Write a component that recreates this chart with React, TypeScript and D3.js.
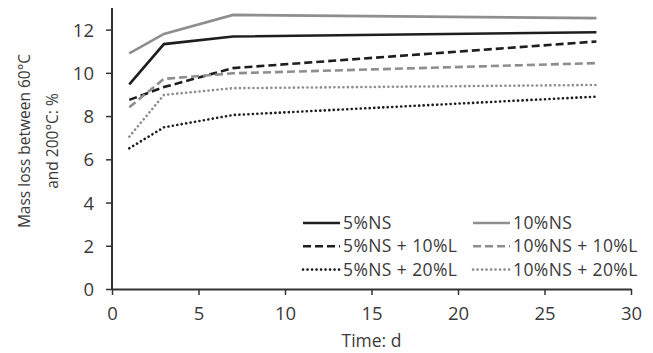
import React, { useEffect, useRef } from 'react'
import { select, scaleLinear, axisLeft, axisBottom, line } from 'd3'

// days sampled
const days = [1, 3, 7, 28]

// mass loss (%) per mix
const ns5 = [9.47, 11.33, 11.68, 11.88]
const ns10 = [10.9, 11.8, 12.68, 12.53]
const ns5L10 = [8.75, 9.34, 10.22, 11.45]
const ns10L10 = [8.41, 9.72, 9.98, 10.45]
const ns5L20 = [6.51, 7.48, 8.05, 8.9]
const ns10L20 = [7.05, 8.98, 9.29, 9.44]

const xTicks = [0, 5, 10, 15, 20, 25, 30]
const yTicks = [0, 2, 4, 6, 8, 10, 12]

const BLACK = '#1e1e1e'
const GREY = '#8e8e8e'

const series = [
  { name: '5%NS', values: ns5, color: BLACK, dash: null },
  { name: '10%NS', values: ns10, color: GREY, dash: null },
  { name: '5%NS + 10%L', values: ns5L10, color: BLACK, dash: '8,4' },
  { name: '10%NS + 10%L', values: ns10L10, color: GREY, dash: '8,4' },
  { name: '5%NS + 20%L', values: ns5L20, color: BLACK, dash: '0.1,4.4' },
  { name: '10%NS + 20%L', values: ns10L20, color: GREY, dash: '0.1,4.4' },
]

const FONT = '"Open Sans", "Noto Sans", sans-serif'
const TEXT = '#3a3a3a'

export default function App() {
  const ref = useRef<SVGSVGElement>(null)

  useEffect(() => {
    const width = 653,
      height = 353
    const margin = { left: 112, right: 22, top: 8, bottom: 64 }

    const svg = select(ref.current)
    svg.selectAll('*').remove()

    const x = scaleLinear().domain([0, 30]).range([margin.left, width - margin.right])
    const y = scaleLinear().domain([0, 13]).range([height - margin.bottom, margin.top])

    // axes
    const gx = svg.append('g')
      .attr('transform', `translate(0,${y(0)})`)
      .call(axisBottom(x).tickValues(xTicks).tickSize(6).tickPadding(12).tickSizeOuter(0))
    const gy = svg.append('g')
      .attr('transform', `translate(${x(0)},0)`)
      .call(axisLeft(y).tickValues(yTicks).tickSize(6).tickPadding(12).tickSizeOuter(0))

    ;[gx, gy].forEach(g => {
      g.select('.domain').attr('stroke', '#333').attr('stroke-width', 2)
      g.selectAll('.tick line').attr('stroke', '#333').attr('stroke-width', 1.5)
      g.selectAll('.tick text')
        .attr('fill', TEXT)
        .attr('font-family', FONT)
        .attr('font-size', 18.5)
    })
    gy.select('.domain').attr('d', `M0,${y(0) + 1}V${y(13)}`)
    gy.selectAll('.tick text').attr('dy', '0.36em')

    // axis titles
    svg.append('text')
      .attr('x', x(15))
      .attr('y', 347)
      .attr('text-anchor', 'middle')
      .attr('font-family', FONT)
      .attr('font-size', 17.5)
      .attr('fill', TEXT)
      .text('Time: d')

    const yt = svg.append('text')
      .attr('transform', `translate(30,141) rotate(-90)`)
      .attr('text-anchor', 'middle')
      .attr('font-family', FONT)
      .attr('font-size', 15.5)
      .attr('fill', TEXT)
    yt.append('tspan').attr('x', 0).attr('dy', 0).text('Mass loss between 60°C')
    yt.append('tspan').attr('x', 0).attr('dy', 28).text('and 200°C: %')

    // lines
    const lineFn = line<number>()
      .x((d, i) => x(days[i]))
      .y(d => y(d))

    series.forEach(s => {
      svg.append('path')
        .datum(s.values)
        .attr('d', lineFn)
        .attr('fill', 'none')
        .attr('stroke', s.color)
        .attr('stroke-width', 2.6)
        .attr('stroke-linecap', s.dash && s.dash.startsWith('0.1') ? 'round' : 'butt')
        .attr('stroke-dasharray', s.dash)
    })

    // legend
    const legend = svg.append('g')
    series.forEach((s, i) => {
      const col = i % 2,
        row = Math.floor(i / 2)
      const lx = col === 0 ? 303 : 473
      const ly = 223 + row * 23.3
      legend.append('line')
        .attr('x1', lx).attr('x2', lx + 37)
        .attr('y1', ly).attr('y2', ly)
        .attr('stroke', s.color)
        .attr('stroke-width', 2.6)
        .attr('stroke-linecap', s.dash && s.dash.startsWith('0.1') ? 'round' : 'butt')
        .attr('stroke-dasharray', s.dash)
      legend.append('text')
        .attr('x', lx + 40)
        .attr('y', ly)
        .attr('dy', '0.35em')
        .attr('font-family', FONT)
        .attr('font-size', 17.5)
        .attr('letter-spacing', 0.4)
        .attr('fill', TEXT)
        .text(s.name)
    })
  }, [])

  return (
    <svg
      ref={ref}
      width={653}
      height={353}
      style={{ position: 'absolute', left: 0, top: 0, background: '#fff' }}
    />
  )
}
